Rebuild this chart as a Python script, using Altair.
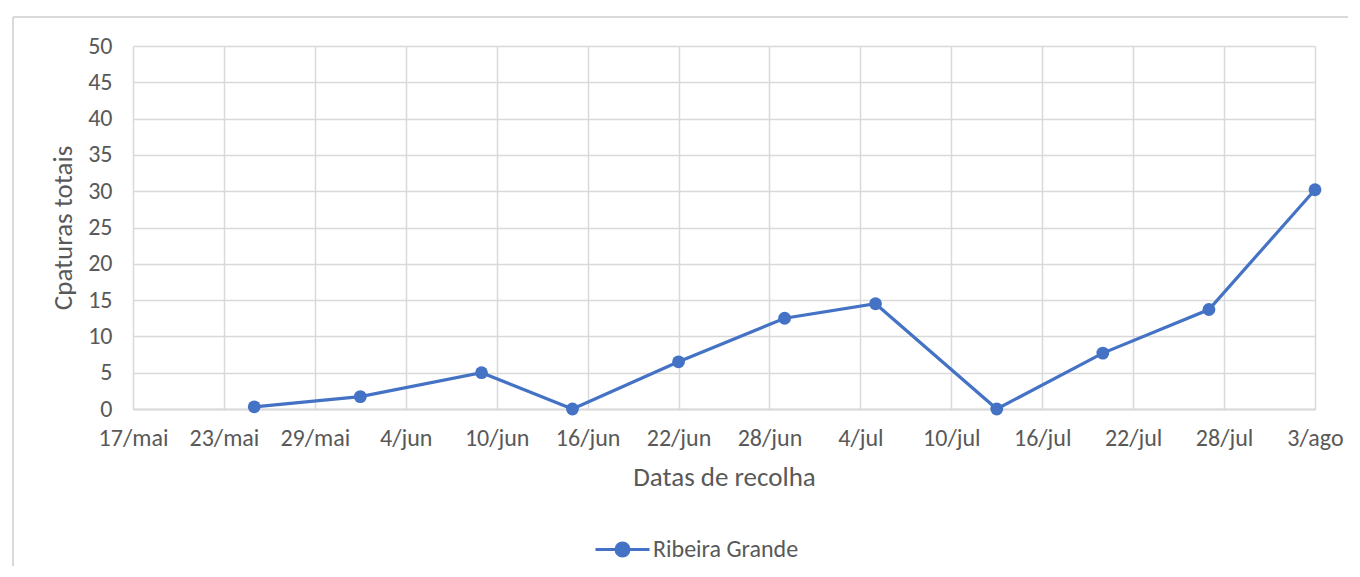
import altair as alt
import pandas as pd

dates = ["2021-05-25", "2021-06-01", "2021-06-09", "2021-06-15", "2021-06-22",
         "2021-06-29", "2021-07-05", "2021-07-13", "2021-07-20", "2021-07-27",
         "2021-08-03"]
capturas = [0.3, 1.7, 5.0, 0.0, 6.5, 12.5, 14.5, 0.0, 7.7, 13.7, 30.2]
series = "Ribeira Grande"

tick_days = [(5, 17), (5, 23), (5, 29), (6, 4), (6, 10), (6, 16), (6, 22),
             (6, 28), (7, 4), (7, 10), (7, 16), (7, 22), (7, 28), (8, 3)]
y_ticks = [0, 5, 10, 15, 20, 25, 30, 35, 40, 45, 50]

df = pd.DataFrame({"data": dates, "capturas": capturas, "serie": [series] * len(dates)})

FONT = "Carlito, Calibri, Lato, sans-serif"
TXT = "#595959"
GRID = "#d9d9d9"
BLUE = "#4472C4"

tick_vals = [alt.DateTime(year=2021, month=m, date=d, utc=True) for m, d in tick_days]
label_expr = ("utcdate(datum.value) + '/' + ['jan','fev','mar','abr','mai','jun','jul',"
              "'ago','set','out','nov','dez'][utcmonth(datum.value)]")

legend_path = ("M-1,0L1,0M0.24,0A0.24,0.24 0 1 1 -0.24,0"
               "A0.24,0.24 0 1 1 0.24,0Z")

line = alt.Chart(df).mark_line(
    strokeWidth=3.2,
    point=alt.OverlayMarkDef(filled=True, size=165, opacity=1),
).encode(
    x=alt.X("data:T",
            scale=alt.Scale(type="utc",
                            domain=[tick_vals[0], tick_vals[-1]]),
            axis=alt.Axis(values=tick_vals, labelExpr=label_expr,
                          labelFlush=False, labelOverlap=False,
                          title="Datas de recolha", grid=True)),
    y=alt.Y("capturas:Q",
            scale=alt.Scale(domain=[0, 50]),
            axis=alt.Axis(values=y_ticks, title="Cpaturas totais", grid=True)),
    color=alt.Color("serie:N",
                    scale=alt.Scale(range=[BLUE]),
                    legend=alt.Legend(title=None, orient="none",
                                      legendX=461, legendY=475,
                                      symbolType=legend_path,
                                      symbolSize=2916,
                                      symbolStrokeWidth=3,
                                      symbolFillColor=BLUE,
                                      symbolStrokeColor=BLUE,
                                      labelOffset=2)),
)

frame_left = alt.Chart(df).mark_rule(color=GRID, strokeWidth=2).encode(
    x=alt.value(-120), y=alt.value(-29), y2=alt.value(520))
frame_top = alt.Chart(df).mark_rule(color=GRID, strokeWidth=2).encode(
    x=alt.value(-120), x2=alt.value(1215), y=alt.value(-29))

chart = alt.layer(frame_left, frame_top, line).properties(
    width=1182, height=363,
    padding={"left": 4, "top": 8, "right": 0, "bottom": 0},
).configure_view(stroke=None).configure_axis(
    labelFont=FONT, titleFont=FONT, labelColor=TXT, titleColor=TXT,
    labelFontSize=24, titleFontSize=27, titleFontWeight="normal",
    gridColor=GRID, gridWidth=1.5, domain=False, ticks=False,
).configure_axisX(
    labelPadding=17, titlePadding=14, domain=True, domainColor=GRID, domainWidth=2,
).configure_axisY(
    labelPadding=21, titlePadding=10,
).configure_legend(
    labelFont=FONT, labelFontSize=24, labelColor=TXT,
)

chart.save("out.html", embed_options={"renderer": "svg", "actions": False})
